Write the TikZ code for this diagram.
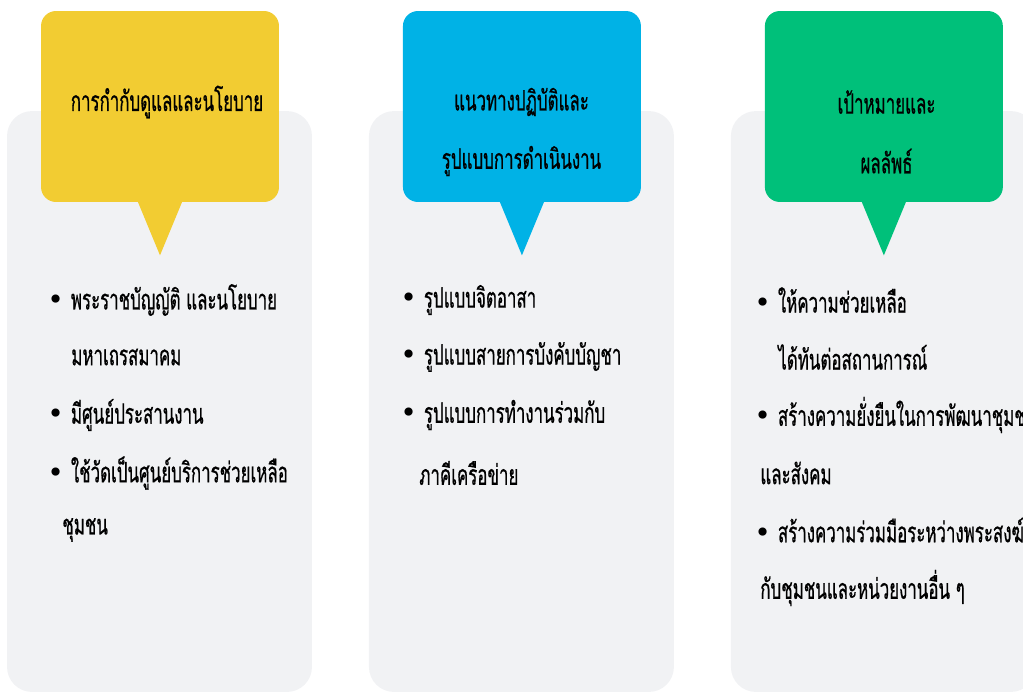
\documentclass[tikz,border=0pt]{standalone}
\usepackage{fontspec}
\newfontfamily\thaifont[Script=Thai,FakeStretch=0.6,FakeBold=0.6]{Loma}
\newfontfamily\symfont{DejaVu Sans}
\usetikzlibrary{positioning}

\definecolor{bubyellow}{RGB}{242,204,50}
\definecolor{bubblue}{RGB}{0,178,230}
\definecolor{bubgreen}{RGB}{0,192,122}
\definecolor{panelgray}{RGB}{241,242,244}

\newcommand{\bul}{{\symfont\textbullet}\hspace{0.25em}}

\begin{document}
\begin{tikzpicture}[x=0.02cm,y=-0.02cm,node distance=7.24cm,on grid,
    panel/.style={fill=panelgray,rounded corners=0.5cm,minimum width=6.1cm,minimum height=11.62cm,inner sep=0pt},
    bubble/.style={rounded corners=0.3cm,minimum width=4.76cm,minimum height=3.82cm,inner sep=0pt},
    title/.style={font=\thaifont\fontsize{16}{19}\selectfont,text=black,inner sep=0pt},
    item/.style={anchor=west,font=\thaifont\fontsize{16}{19}\selectfont,text=black,inner sep=0pt}]
  \useasboundingbox (0,0) rectangle (1023,693);
  \clip (0,0) rectangle (1023,693);
  % grey panels
  \node[panel] (p1) at (159.5,401.5) {};
  \node[panel] (p2) [right=of p1] {};
  \node[panel] (p3) [right=of p2] {};
  % speech bubbles
  \node[bubble,fill=bubyellow] (b1) at (160,106.5) {};
  \node[bubble,fill=bubblue] (b2) [right=of b1] {};
  \node[bubble,fill=bubgreen] (b3) [right=of b2] {};
  \fill[bubyellow] ([xshift=-0.48cm,yshift=0.1cm]b1.south) -- ([xshift=0.48cm,yshift=0.1cm]b1.south) -- ([yshift=-1.06cm]b1.south) -- cycle;
  \fill[bubblue] ([xshift=-0.48cm,yshift=0.1cm]b2.south) -- ([xshift=0.48cm,yshift=0.1cm]b2.south) -- ([yshift=-1.06cm]b2.south) -- cycle;
  \fill[bubgreen] ([xshift=-0.48cm,yshift=0.1cm]b3.south) -- ([xshift=0.48cm,yshift=0.1cm]b3.south) -- ([yshift=-1.06cm]b3.south) -- cycle;
  % titles
  \node[title] (t1) at (167,102) {การกำกับดูแลและนโยบาย};
  \node[title] (t2a) at (521.5,102) {แนวทางปฏิบัติและ};
  \node[title] (t2b) at (521.5,161) {รูปแบบการดำเนินงาน};
  \node[title] (t3a) at (886.5,102) {เป้าหมายและ};
  \node[title] (t3b) at (886.5,161) {ผลลัพธ์};
  % column 1
  \node[item] (a1) at (47,300) {\bul พระราชบัญญัติ และนโยบาย};
  \node[item] (a2) at (71,357) {มหาเถรสมาคม};
  \node[item] (a3) at (47,415) {\bul มีศูนย์ประสานงาน};
  \node[item] (a4) at (47,473) {\bul ใช้วัดเป็นศูนย์บริการช่วยเหลือ};
  \node[item] (a5) at (62,530) {ชุมชน};
  % column 2
  \node[item] (c1) at (400,300) {\bul รูปแบบจิตอาสา};
  \node[item] (c2) at (400,357) {\bul รูปแบบสายการบังคับบัญชา};
  \node[item] (c3) at (400,415) {\bul รูปแบบการทำงานร่วมกับ};
  \node[item] (c4) at (419,473) {ภาคีเครือข่าย};
  % column 3
  \node[item] (g1) at (754,300) {\bul ให้ความช่วยเหลือ};
  \node[item] (g2) at (778,357) {ได้ทันต่อสถานการณ์};
  \node[item] (g3) at (754,415) {\bul สร้างความยั่งยืนในการพัฒนาชุมชน};
  \node[item] (g4) at (760,473) {และสังคม};
  \node[item] (g5) at (754,530) {\bul สร้างความร่วมมือระหว่างพระสงฆ์};
  \node[item] (g6) at (760,588) {กับชุมชนและหน่วยงานอื่น ๆ};
\end{tikzpicture}
\end{document}
